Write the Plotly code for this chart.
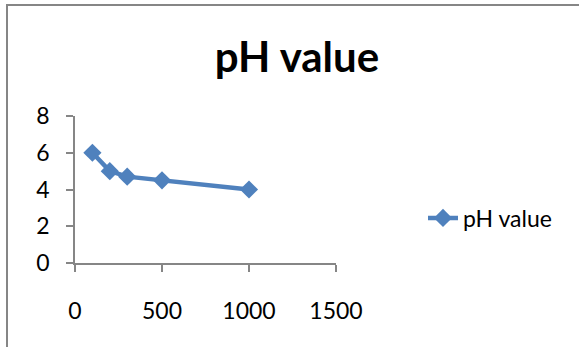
import plotly.graph_objects as go

# Data
x_values = [100, 200, 300, 500, 1000]
ph_values = [6, 5, 4.7, 4.5, 4]
series_name = "pH value"
chart_title = "pH value"
x_ticks = [0, 500, 1000, 1500]
y_ticks = [0, 2, 4, 6, 8]

FONT = "Lato"
LINE_COLOR = "#4F81BD"
AXIS_COLOR = "#868686"

fig = go.Figure()
fig.add_trace(go.Scatter(
    x=x_values, y=ph_values, name=series_name, mode="lines+markers",
    line=dict(color=LINE_COLOR, width=4.5),
    marker=dict(symbol="diamond", size=14, color=LINE_COLOR),
))

W, H = 579, 347
L, R, T, B = 75, 243, 116, 84
pw = W - L - R
ph = H - T - B

fig.update_layout(
    width=W, height=H,
    margin=dict(l=L, r=R, t=T, b=B, autoexpand=False),
    paper_bgcolor="white", plot_bgcolor="white",
    font=dict(family=FONT, size=23, color="black"),
    title=dict(text="<b>" + chart_title + "</b>", font=dict(family=FONT, size=42, color="black"),
               xref="container", yref="container", x=297 / W, y=1 - 57 / H,
               xanchor="center", yanchor="middle"),
    showlegend=True,
    legend=dict(xref="container", yref="container", x=423 / W, y=1 - 218 / H,
                xanchor="left", yanchor="middle", font=dict(family=FONT, size=23, color="black"),
                bgcolor="rgba(0,0,0,0)", borderwidth=0),
    xaxis=dict(range=[0, 1500], tickvals=x_ticks, ticktext=[str(v) for v in x_ticks],
               showgrid=False, zeroline=False, showline=True, linecolor=AXIS_COLOR, linewidth=1.5,
               ticks="outside", ticklen=7, tickcolor=AXIS_COLOR, tickwidth=1.5,
               ticklabelstandoff=20, fixedrange=True),
    yaxis=dict(range=[0, 8], tickvals=y_ticks, ticktext=[str(v) for v in y_ticks],
               showgrid=False, zeroline=False, showline=True, linecolor=AXIS_COLOR, linewidth=1.5,
               ticks="outside", ticklen=7, tickcolor=AXIS_COLOR, tickwidth=1.5,
               ticklabelstandoff=12, fixedrange=True),
    shapes=[dict(type="rect", xref="paper", yref="paper",
                 x0=(7 - L) / pw, x1=(W + 20 - L) / pw,
                 y0=-(B + 20) / ph, y1=(H - B - 5) / ph,
                 line=dict(color=AXIS_COLOR, width=2), fillcolor="rgba(0,0,0,0)", layer="below")],
)

fig.write_html("out.html", config={"displayModeBar": False})
